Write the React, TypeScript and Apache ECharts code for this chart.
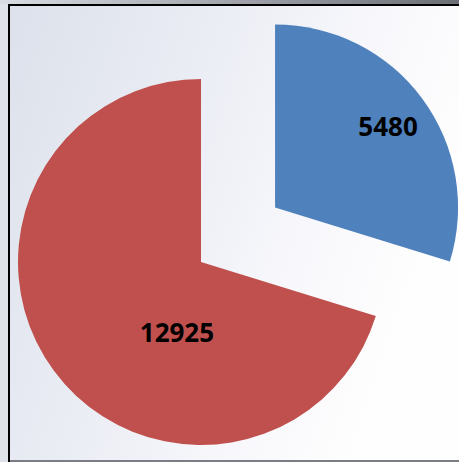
import React, { useEffect, useRef } from "react";
import * as echarts from "echarts";

const categories = ["A", "B"];
const values = [5480, 12925];
const colors = ["#4F81BD", "#C0504D"];
// label nudges (px) relative to ECharts' default "inside" position
const labelNudges = [
  [37, -25],
  [52, 14],
];

export default function App() {
  const ref = useRef<HTMLDivElement>(null);
  useEffect(() => {
    if (!ref.current) return;
    const chart = echarts.init(ref.current, undefined, { renderer: "svg" });
    chart.setOption({
      animation: false,
      backgroundColor: "#dfe2e8",
      graphic: [
        {
          type: "rect",
          z: -10,
          shape: { x: 0, y: 0, width: 459, height: 4 },
          style: {
            fill: new echarts.graphic.LinearGradient(0, 0, 1, 0, [
              { offset: 0, color: "#d9dce2" },
              { offset: 1, color: "#6b6e74" },
            ]),
          },
          silent: true,
        },
        {
          type: "rect",
          z: -10,
          shape: { x: 10, y: 6, width: 449, height: 454 },
          style: {
            fill: new echarts.graphic.LinearGradient(0, 0, 1, 0.35, [
              { offset: 0, color: "#dce1eb" },
              { offset: 0.45, color: "#eceef5" },
              { offset: 0.75, color: "#f8f8fc" },
              { offset: 1, color: "#fefefe" },
            ]),
          },
          silent: true,
        },
        {
          type: "rect",
          z: -5,
          shape: { x: 8, y: 4, width: 451, height: 2 },
          style: { fill: "#000000" },
          silent: true,
        },
        {
          type: "rect",
          z: -5,
          shape: { x: 8, y: 4, width: 2, height: 458 },
          style: { fill: "#000000" },
          silent: true,
        },
        {
          type: "rect",
          z: -5,
          shape: { x: 10, y: 460, width: 449, height: 2 },
          style: { fill: "#7a7d83" },
          silent: true,
        },
      ],
      series: [
        {
          type: "pie",
          center: [201, 262],
          radius: 183,
          startAngle: 90,
          clockwise: true,
          selectedMode: "single",
          selectedOffset: 92,
          emphasis: { disabled: true },
          select: { itemStyle: { borderWidth: 0 } },
          labelLine: { show: false },
          label: {
            show: true,
            position: "inside",
            formatter: "{c}",
            fontFamily: "Noto Sans",
            fontWeight: "bold",
            fontSize: 26,
            color: "#000000",
          },
          labelLayout: (params: any) => ({
            dx: labelNudges[params.dataIndex][0],
            dy: labelNudges[params.dataIndex][1],
          }),
          data: categories.map((name, i) => ({
            name,
            value: values[i],
            selected: i === 0,
            itemStyle: { color: colors[i], borderWidth: 0 },
          })),
        },
      ],
    });
    return () => chart.dispose();
  }, []);
  return (
    <div
      ref={ref}
      style={{ position: "absolute", left: 0, top: 0, width: 459, height: 462 }}
    />
  );
}
